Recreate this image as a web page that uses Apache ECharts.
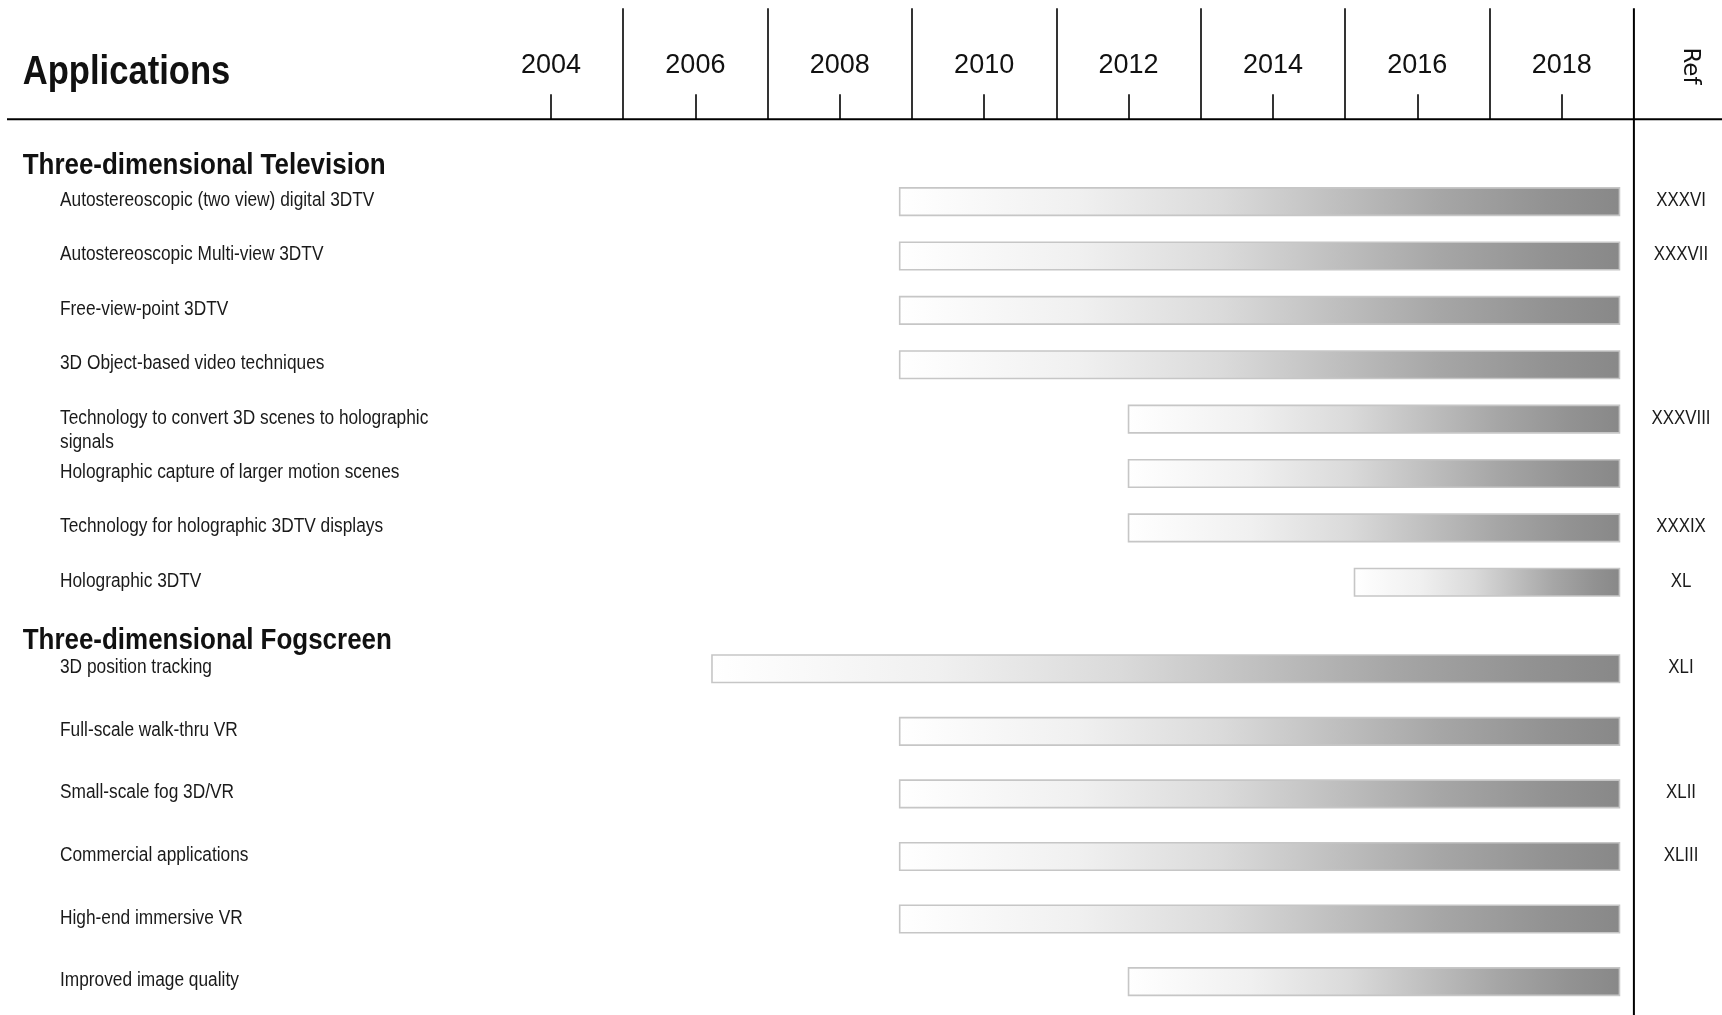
<!DOCTYPE html>
<html>
<head>
<meta charset="utf-8">
<script src="https://cdn.jsdelivr.net/npm/echarts@6/dist/echarts.min.js"></script>
<style>
html,body{margin:0;padding:0;background:#fff;}
#chart{width:1722px;height:1015px;}
</style>
</head>
<body>
<div id="chart"></div>
<script>
// ---------- data ----------
const tvApps = [
  'Autostereoscopic (two view) digital 3DTV',
  'Autostereoscopic Multi-view 3DTV',
  'Free-view-point 3DTV',
  '3D Object-based video techniques',
  'Technology to convert 3D scenes to holographic\nsignals',
  'Holographic capture of larger motion scenes',
  'Technology for holographic 3DTV displays',
  'Holographic 3DTV'
];
const tvStart = [2008.83, 2008.83, 2008.83, 2008.83, 2012.0, 2012.0, 2012.0, 2015.13];
const tvEnd   = [2018.8, 2018.8, 2018.8, 2018.8, 2018.8, 2018.8, 2018.8, 2018.8];
const tvRefs  = ['XXXVI', 'XXXVII', '', '', 'XXXVIII', '', 'XXXIX', 'XL'];

const fogApps = [
  '3D position tracking',
  'Full-scale walk-thru VR',
  'Small-scale fog 3D/VR',
  'Commercial applications',
  'High-end immersive VR',
  'Improved image quality'
];
const fogStart = [2006.23, 2008.83, 2008.83, 2008.83, 2008.83, 2012.0];
const fogEnd   = [2018.8, 2018.8, 2018.8, 2018.8, 2018.8, 2018.8];
const fogRefs  = ['XLI', '', 'XLII', 'XLIII', '', ''];

const groupTitles = ['Three-dimensional Television', 'Three-dimensional Fogscreen'];
const yearMin = 2003, yearMax = 2019;

// ---------- layout / style ----------
const W = 1722, H = 1015;
const FONT = "'Liberation Sans', Arial, sans-serif";
const SX = 0.865;                     // horizontal condensing of the text
const GL = 478.8, GR = 88.1;          // plot left / right
const xEnd = W - GR;                  // x of yearMax (Ref line)
const headerTop = 8.3, headerBottom = 119.3;
const tickLen = 25;
const yearPx = (xEnd - GL) / (yearMax - yearMin);
const labelX = 60;
const refX = 1681;
const barH = 27.5;
const LH = 24;

const chart = echarts.init(document.getElementById('chart'), null, {renderer: 'canvas'});

function toRows(start, end) {
  return start.map((s, i) => [i, s, end[i]]);
}

const barFill = new echarts.graphic.LinearGradient(0, 0, 1, 0, [
  {offset: 0, color: '#ffffff'},
  {offset: 0.25, color: '#f0f0f0'},
  {offset: 0.45, color: '#dadada'},
  {offset: 0.6, color: '#c0c0c0'},
  {offset: 0.75, color: '#a6a6a6'},
  {offset: 0.9, color: '#929292'},
  {offset: 1, color: '#888888'}
]);

function makeRenderer(labels, refs) {
  return function (params, api) {
    const i = params.dataIndex;
    const row = api.value(0);
    const a = api.coord([api.value(1), row]);
    const b = api.coord([api.value(2), row]);
    const cy = a[1];
    return {
      type: 'group',
      children: [
        {type: 'rect',
          shape: {x: a[0], y: cy - barH / 2, width: b[0] - a[0], height: barH},
          style: {fill: barFill, stroke: '#c6c6c6', lineWidth: 1.6}},
        {type: 'text', x: labelX, y: cy - 1 - LH / 2, scaleX: SX,
          style: {text: labels[i], font: '20px ' + FONT, fill: '#1a1a1a',
            align: 'left', verticalAlign: 'top', lineHeight: LH}},
        {type: 'text', x: refX, y: cy - 1, scaleX: SX,
          style: {text: refs[i], font: '19.5px ' + FONT, fill: '#1a1a1a',
            align: 'center', verticalAlign: 'middle'}}
      ]
    };
  };
}

const g1 = {top: 174.4, height: 435.1};
const g2 = {top: 637.5, height: 375.4};

function rowAxis(gridIndex, data) {
  return {
    type: 'category', gridIndex: gridIndex, inverse: true, data: data,
    axisLine: {show: false}, axisTick: {show: false}, splitLine: {show: false},
    axisLabel: {show: false}
  };
}

const option = {
  animation: false,
  backgroundColor: '#ffffff',
  grid: [
    {left: GL, right: GR, top: headerTop, height: headerBottom - headerTop, outerBoundsMode: 'none'},
    {left: GL + yearPx, right: GR + yearPx, top: headerBottom - tickLen, height: tickLen, outerBoundsMode: 'none'},
    {left: GL, right: GR, top: g1.top, height: g1.height, outerBoundsMode: 'none'},
    {left: GL, right: GR, top: g2.top, height: g2.height, outerBoundsMode: 'none'}
  ],
  xAxis: [
    { // separators at odd years
      type: 'value', gridIndex: 0, min: yearMin, max: yearMax, interval: 2,
      axisLine: {show: false}, axisTick: {show: false}, axisLabel: {show: false},
      splitLine: {show: true, showMinLine: false, showMaxLine: false,
        lineStyle: {color: '#000', width: 1.6}}
    },
    { // even-year ticks and labels
      type: 'value', gridIndex: 1, min: yearMin + 1, max: yearMax - 1, interval: 2, position: 'top',
      axisLine: {show: false}, axisTick: {show: false},
      axisLabel: {show: true, margin: 29, verticalAlign: 'middle',
        fontFamily: FONT, fontSize: 27, color: '#111', formatter: v => String(v)},
      splitLine: {show: true, showMinLine: true, showMaxLine: true,
        lineStyle: {color: '#000', width: 1.6}}
    },
    {type: 'value', gridIndex: 2, min: yearMin, max: yearMax, show: false, splitLine: {show: false}},
    {type: 'value', gridIndex: 3, min: yearMin, max: yearMax, show: false, splitLine: {show: false}}
  ],
  yAxis: [
    {type: 'value', gridIndex: 0, show: false},
    {type: 'value', gridIndex: 1, show: false},
    rowAxis(2, tvApps),
    rowAxis(3, fogApps)
  ],
  series: [
    {type: 'custom', name: groupTitles[0], xAxisIndex: 2, yAxisIndex: 2, clip: false,
      renderItem: makeRenderer(tvApps, tvRefs), encode: {x: [1, 2], y: 0}, data: toRows(tvStart, tvEnd)},
    {type: 'custom', name: groupTitles[1], xAxisIndex: 3, yAxisIndex: 3, clip: false,
      renderItem: makeRenderer(fogApps, fogRefs), encode: {x: [1, 2], y: 0}, data: toRows(fogStart, fogEnd)}
  ],
  graphic: [
    {type: 'text', x: 22.7, y: 72.5, scaleX: SX, style: {text: 'Applications', font: 'bold 40px ' + FONT,
      fill: '#111', align: 'left', verticalAlign: 'middle'}},
    {type: 'text', x: 1690, y: 66, rotation: -Math.PI / 2, style: {text: 'Ref', font: "23px 'DejaVu Sans'",
      fill: '#111', align: 'center', verticalAlign: 'middle'}},
    {type: 'text', x: 22.7, y: 166, scaleX: SX, style: {text: groupTitles[0], font: 'bold 30px ' + FONT,
      fill: '#111', align: 'left', verticalAlign: 'middle'}},
    {type: 'text', x: 22.7, y: 640.5, scaleX: SX, style: {text: groupTitles[1], font: 'bold 30px ' + FONT,
      fill: '#111', align: 'left', verticalAlign: 'middle'}},
    {type: 'line', shape: {x1: 7, y1: headerBottom, x2: W, y2: headerBottom},
      style: {stroke: '#000', lineWidth: 2}},
    {type: 'line', shape: {x1: xEnd, y1: headerTop, x2: xEnd, y2: H},
      style: {stroke: '#000', lineWidth: 2}}
  ]
};
chart.setOption(option);
</script>
</body>
</html>
